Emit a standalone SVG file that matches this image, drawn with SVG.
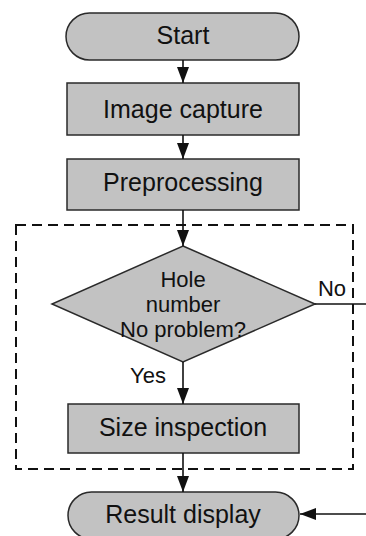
<svg xmlns="http://www.w3.org/2000/svg" width="366" height="536" viewBox="0 0 366 536">
<style>
.shape{fill:#c2c2c2;stroke:#2a2a2a;stroke-width:1.5}
.lbl{font-family:"Liberation Sans",Arial,sans-serif;font-size:25px;fill:#111;text-anchor:middle}
.sm{font-family:"Liberation Sans",Arial,sans-serif;font-size:22px;fill:#111;text-anchor:middle}
.edge{fill:none;stroke:#111;stroke-width:1.6}
.dash{fill:none;stroke:#111;stroke-width:2;stroke-dasharray:10 6}
</style>
<defs>
<marker id="ah" markerUnits="userSpaceOnUse" markerWidth="16" markerHeight="12" refX="16" refY="6" orient="auto">
<path d="M0,0 L16,6 L0,12 Z" fill="#111"/>
</marker>
</defs>
<rect x="0" y="0" width="366" height="536" fill="#fff"/>
<rect id="group-box" class="dash" x="16" y="225" width="337" height="244"/>
<g id="start">
<rect class="shape" x="66" y="13" width="233" height="47" rx="23.5" ry="23.5"/>
<text class="lbl" x="183" y="44">Start</text>
</g>
<g id="image-capture">
<rect class="shape" x="67" y="83" width="232" height="52"/>
<text class="lbl" x="183" y="118">Image capture</text>
</g>
<g id="preprocessing">
<rect class="shape" x="67" y="159" width="232" height="51"/>
<text class="lbl" x="183" y="191">Preprocessing</text>
</g>
<g id="decision">
<polygon class="shape" points="183,246 315,304 183,362 52,304"/>
<text class="sm" x="183" y="287">Hole</text>
<text class="sm" x="183" y="312">number</text>
<text class="sm" x="183" y="337">No problem?</text>
</g>
<g id="size-inspection">
<rect class="shape" x="68" y="404" width="231" height="49"/>
<text class="lbl" x="183" y="436">Size inspection</text>
</g>
<g id="result-display">
<rect class="shape" x="68" y="492" width="231" height="47" rx="23.5" ry="23.5"/>
<text class="lbl" x="183" y="523">Result display</text>
</g>
<g id="connectors">
<line class="edge" x1="183" y1="60" x2="183" y2="83" marker-end="url(#ah)"/>
<line class="edge" x1="183" y1="135" x2="183" y2="159" marker-end="url(#ah)"/>
<line class="edge" x1="183" y1="210" x2="183" y2="246" marker-end="url(#ah)"/>
<line class="edge" x1="183" y1="362" x2="183" y2="404" marker-end="url(#ah)"/>
<line class="edge" x1="183" y1="453" x2="183" y2="492" marker-end="url(#ah)"/>
<line class="edge" x1="315" y1="304" x2="366" y2="304"/>
<line class="edge" x1="366" y1="514" x2="300" y2="514" marker-end="url(#ah)"/>
<text class="sm" x="332" y="296">No</text>
<text class="sm" x="148" y="383">Yes</text>
</g>
</svg>
